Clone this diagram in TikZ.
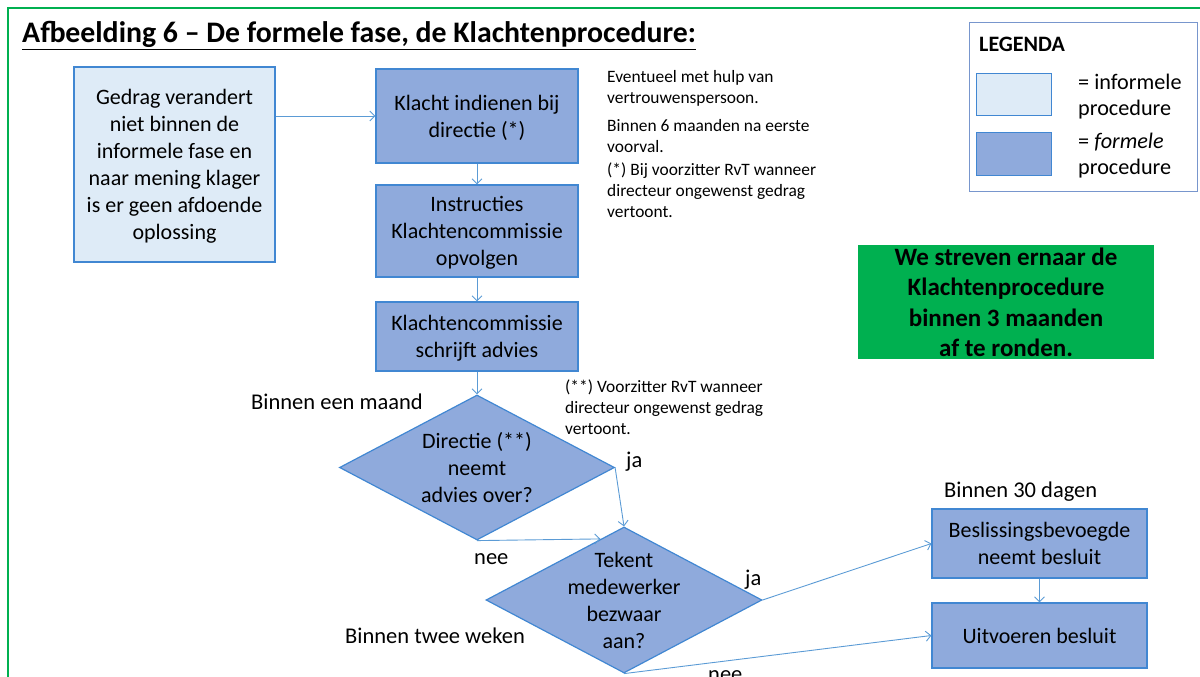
\documentclass[tikz,border=0pt]{standalone}
\usepackage{fontspec}
\setmainfont{Carlito}
\usetikzlibrary{shapes.geometric,arrows.meta,calc}
\definecolor{lightfill}{RGB}{222,235,247}
\definecolor{darkfill}{RGB}{143,170,220}
\definecolor{boxline}{RGB}{65,135,210}
\definecolor{arrowcol}{RGB}{91,155,213}
\definecolor{greenc}{RGB}{0,176,80}
\definecolor{legline}{RGB}{120,150,205}
\tikzset{
  fbox/.style={draw=boxline, line width=1.2pt, fill=darkfill, inner sep=0pt, align=center, text depth=0pt, font=\fontsize{22}{27}\selectfont},
  ibox/.style={fbox, fill=lightfill},
  dia/.style={diamond, draw=boxline, line width=1.2pt, fill=darkfill, inner sep=0pt},
  diatext/.style={inner sep=0pt, align=center, font=\fontsize{22}{27}\selectfont},
  conn/.style={draw=arrowcol, line width=0.9pt, -{Straight Barb[length=5pt,width=10pt]}},
  note/.style={anchor=base west, align=left, inner sep=0pt, font=\fontsize{17.4}{21}\selectfont},
  lbl/.style={anchor=base west, inner sep=0pt, font=\fontsize{22.5}{27}\selectfont},
  legtext/.style={anchor=base west, align=left, inner sep=0pt, font=\fontsize{22.2}{26}\selectfont},
}
\begin{document}
\begin{tikzpicture}[x=1pt,y=-1pt]
\useasboundingbox (0,0) rectangle (1200,677);
\draw[greenc, line width=2.5pt] (8,720) -- (8,8) -- (1240,8);
% title
\node[anchor=base west, inner sep=0pt, font=\bfseries\fontsize{29.8}{34}\selectfont] (title) at (22,43) {\underline{Afbeelding 6 – De formele fase, de Klachtenprocedure:}};
% boxes
\node[ibox, minimum width=201, minimum height=195] (gedrag) at (174.5,164.5) {Gedrag verandert\\niet binnen de\\informele fase en\\naar mening klager\\is er geen afdoende\\oplossing};
\node[fbox, minimum width=202, minimum height=94] (klacht) at (477,116) {Klacht indienen bij\\directie (*)};
\node[fbox, minimum width=202, minimum height=92] (instr) at (477,231) {Instructies\\Klachtencommissie\\opvolgen};
\node[fbox, minimum width=202, minimum height=69] (komm) at (477,336.5) {Klachtencommissie\\schrijft advies};
\node[dia, minimum width=275, minimum height=145] (d1) at (477,467.5) {};
\node[diatext] (d1t) at (d1.center) {Directie (**)\\neemt\\advies over?};
\node[dia, minimum width=276, minimum height=146] (d2) at (624,600) {};
\node[diatext] (d2t) at (d2.center) {Tekent\\medewerker\\bezwaar\\aan?};
\node[fbox, minimum width=215, minimum height=69] (besl) at (1039.5,543.5) {Beslissingsbevoegde\\neemt besluit};
\node[fbox, minimum width=215, minimum height=65] (uitv) at (1039.5,635.5) {Uitvoeren besluit};
% green box
\node[fill=greenc, minimum width=296, minimum height=114, inner sep=0pt, align=center, text depth=0pt, font=\bfseries\fontsize{25}{30.5}\selectfont] (goal) at (1006,302) {We streven ernaar de\\Klachtenprocedure\\binnen 3 maanden\\af te ronden.};
% legend
\node[draw=legline, line width=1pt, inner sep=0pt, minimum width=228, minimum height=169, anchor=north west] (legend) at (969,22) {};
\node[anchor=base west, inner sep=0pt, font=\bfseries\fontsize{22}{26}\selectfont] (legtitle) at (979,52) {LEGENDA};
\node[ibox, minimum width=75, minimum height=42, anchor=north west] (swlight) at (976,73) {};
\node[fbox, minimum width=75, minimum height=43, anchor=north west] (swdark) at (976,132) {};
\node[legtext] (leg1) at (1078,115) {= informele\\procedure};
\node[legtext] (leg2) at (1078,174) {= \textit{formele}\\procedure};
% notes (anchor is the baseline of the last line)
\node[note] (n1) at (607,103) {Eventueel met hulp van\\vertrouwenspersoon.};
\node[note] (n2) at (607,152) {Binnen 6 maanden na eerste\\voorval.};
\node[note] (n3) at (607,217) {(*) Bij voorzitter RvT wanneer\\directeur ongewenst gedrag\\vertoont.};
\node[note] (n4) at (565,434) {(**) Voorzitter RvT wanneer\\directeur ongewenst gedrag\\vertoont.};
% labels
\node[lbl] (l1) at (251,409) {Binnen een maand};
\node[lbl] (l2) at (626,467) {ja};
\node[lbl] (l3) at (474,564) {nee};
\node[lbl] (l4) at (345,643) {Binnen twee weken};
\node[lbl] (l5) at (745,585) {ja};
\node[lbl] (l6) at (708,681) {nee};
\node[lbl] (l7) at (944,497) {Binnen 30 dagen};
% connectors
\draw[conn] (gedrag.east |- klacht.west) -- (klacht.west);
\draw[conn] (klacht.south) -- (instr.north);
\draw[conn] (instr.south) -- (komm.north);
\draw[conn] (komm.south) -- (d1.north);
\draw[conn] (d1.east) -- (d2.north);
\draw[conn] (d1.south) -- ($(d2.north)!0.17!(d2.west)$);
\draw[conn] (d2.east) -- (besl.west);
\draw[conn] (d2.south) -- (uitv.west);
\draw[conn] (besl.south) -- (uitv.north);
\end{tikzpicture}
\end{document}
